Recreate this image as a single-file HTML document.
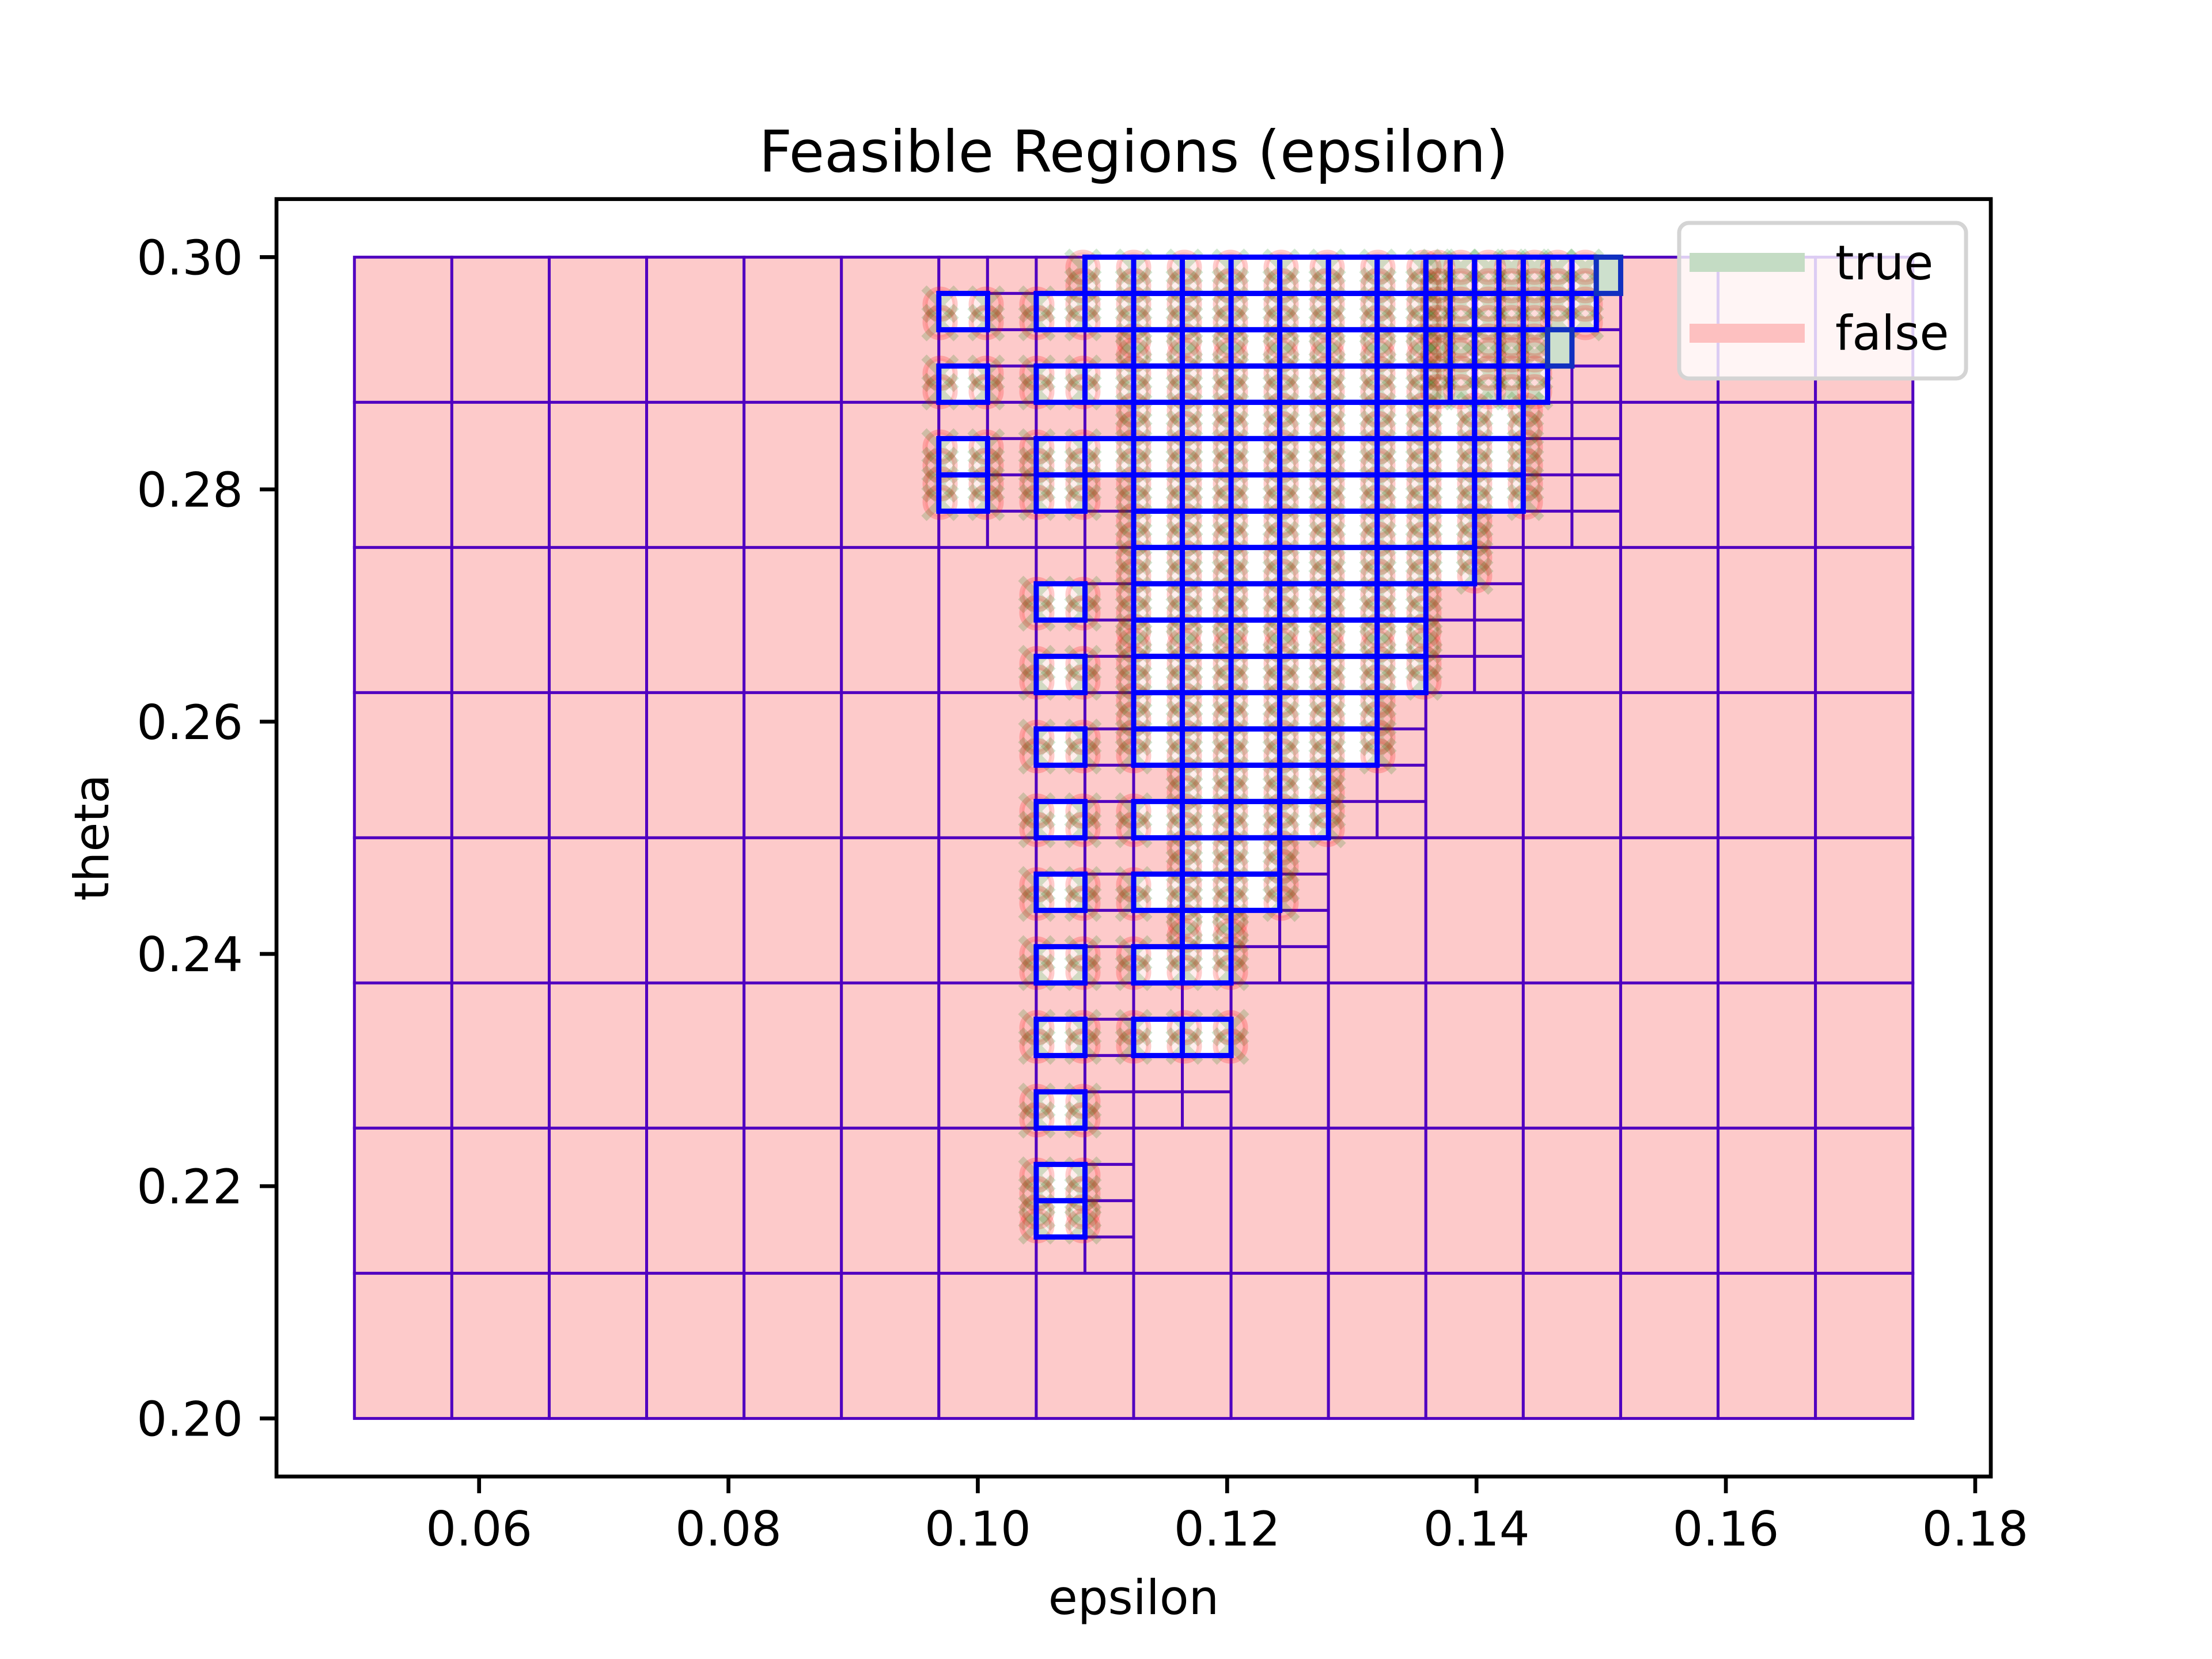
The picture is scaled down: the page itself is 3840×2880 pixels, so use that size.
<!DOCTYPE html>
<html><head><meta charset="utf-8"><style>
html,body{margin:0;padding:0;background:#fff;}
svg{display:block;}
text{font-family:"DejaVu Sans","Liberation Sans",sans-serif;fill:#000;}
</style></head><body>
<svg id="chart" width="3840" height="2880" viewBox="0 0 3840 2880" xmlns="http://www.w3.org/2000/svg">
<rect x="0" y="0" width="3840" height="2880" fill="#fff"/>
<g id="cells"></g>
<g id="bluefill"></g>
<g id="marks"></g>
<g id="blues"></g>
<g id="axes"></g>
</svg>
<script>
// ---- data ----
const baseEpsEdges = [0.05,0.0578125,0.065625,0.0734375,0.08125,0.0890625,0.096875,0.1046875,0.1125,0.1203125,0.128125,0.1359375,0.14375,0.1515625,0.159375,0.1671875,0.175];
const baseThetaEdges = [0.3,0.2875,0.275,0.2625,0.25,0.2375,0.225,0.2125,0.2];
// refined (split) base cells: [colIndex,rowIndex]
const refinedCols = [6,6,7,7,7,7,7,7,7,8,8,8,8,8,8,9,9,9,9,9,10,10,10,10,11,11,11,12,12];
const refinedRows = [0,1,0,1,2,3,4,5,6,0,1,2,3,4,5,0,1,2,3,4,0,1,2,3,0,1,2,0,1];
// undecided (blue) cells: quarter-row index, eps start, eps end, cell width
const blueRow   = [0,0,1,1,1,1,2,2,3,3,3,3,3,4,5,5,5,5,6,6,6,7,8,9,9,10,11,11,12,13,13,14,15,15,16,17,17,18,19,19,21,21,23,25,26];
const blueStart = [0.1085938,0.1359375,0.096875,0.1046875,0.1085938,0.1359375,0.1125,0.1359375,0.096875,0.1046875,0.1085938,0.1125,0.1359375,0.1125,0.096875,0.1046875,0.1085938,0.1125,0.096875,0.1046875,0.1125,0.1125,0.1125,0.1046875,0.1125,0.1125,0.1046875,0.1125,0.1125,0.1046875,0.1125,0.1164063,0.1046875,0.1125,0.1164063,0.1046875,0.1125,0.1164063,0.1046875,0.1125,0.1046875,0.1125,0.1046875,0.1046875,0.1046875];
const blueEnd   = [0.1359375,0.1496094,0.1007813,0.1085938,0.1359375,0.1496094,0.1359375,0.1457031,0.1007813,0.1085938,0.1125,0.1359375,0.1457031,0.14375,0.1007813,0.1085938,0.1125,0.14375,0.1007813,0.1085938,0.14375,0.1398438,0.1398438,0.1085938,0.1359375,0.1359375,0.1085938,0.1359375,0.1320313,0.1085938,0.1320313,0.128125,0.1085938,0.128125,0.1242188,0.1085938,0.1242188,0.1203125,0.1085938,0.1203125,0.1085938,0.1203125,0.1085938,0.1085938,0.1085938];
const blueStep  = [0.00390625,0.001953125,0.00390625,0.00390625,0.00390625,0.001953125,0.00390625,0.001953125,0.00390625,0.00390625,0.00390625,0.00390625,0.001953125,0.00390625,0.00390625,0.00390625,0.00390625,0.00390625,0.00390625,0.00390625,0.00390625,0.00390625,0.00390625,0.00390625,0.00390625,0.00390625,0.00390625,0.00390625,0.00390625,0.00390625,0.00390625,0.00390625,0.00390625,0.00390625,0.00390625,0.00390625,0.00390625,0.00390625,0.00390625,0.00390625,0.00390625,0.00390625,0.00390625,0.00390625,0.00390625];
// feasible (green) cells
const greenRow = [0,2];
const greenStart = [0.1496094,0.1457031];
const greenEnd = [0.1515625,0.1476563];
const xTicks = [0.06,0.08,0.10,0.12,0.14,0.16,0.18];
const xTickLabels = ["0.06","0.08","0.10","0.12","0.14","0.16","0.18"];
const yTicks = [0.20,0.22,0.24,0.26,0.28,0.30];
const yTickLabels = ["0.20","0.22","0.24","0.26","0.28","0.30"];

// ---- axes ----
const AX={l:480,r:3456,t:345.6,b:2563.2};
const xMin=0.04375,xMax=0.18125,yMin=0.195,yMax=0.305;
const X=e=>AX.l+(e-xMin)/(xMax-xMin)*(AX.r-AX.l);
const Y=t=>AX.t+(yMax-t)/(yMax-yMin)*(AX.b-AX.t);
const qH=0.003125, NS='http://www.w3.org/2000/svg';
const cells=document.getElementById('cells'), bluefill=document.getElementById('bluefill'), blues=document.getElementById('blues'), axes=document.getElementById('axes'), marks=document.getElementById('marks');
function mk(tag,attrs,parent){const el=document.createElementNS(NS,tag);for(const k in attrs)el.setAttribute(k,attrs[k]);parent.appendChild(el);return el;}
function box(e0,e1,t0,t1,fill,stroke,sw,name,parent){
  const el=mk('rect',{x:X(e0),y:Y(t0),width:X(e1)-X(e0),height:Y(t1)-Y(t0),fill:fill,stroke:stroke,'stroke-width':sw},parent||cells);
  
  
  return el;
}
const PINK='#fdcaca', PURP='#5000c0';
const isRef=(c,r)=>refinedCols.some((v,i)=>v===c&&refinedRows[i]===r);
for(let c=0;c<16;c++)for(let r=0;r<8;r++){
  const e0=baseEpsEdges[c],e1=baseEpsEdges[c+1],t0=baseThetaEdges[r],t1=baseThetaEdges[r+1];
  if(!isRef(c,r)){box(e0,e1,t0,t1,PINK,PURP,5,'false-region');}
  else{
    const hw=(e1-e0)/2, hh=(t0-t1)/4;
    for(let a=0;a<2;a++)for(let b=0;b<4;b++)box(e0+a*hw,e0+(a+1)*hw,t0-b*hh,t0-(b+1)*hh,PINK,PURP,5,'false-subregion');
  }
}
const markerSet=new Set();
const key=(x,y)=>Math.round(x/8)*8+','+Math.round(y/8)*8;
for(let i=0;i<blueRow.length;i++){
  const t0=0.3-blueRow[i]*qH,t1=t0-qH;
  for(let e=blueStart[i];e<blueEnd[i]-1e-6;e+=blueStep[i]){
    const e1=Math.min(e+blueStep[i],blueEnd[i]);
    box(e,e1,t0,t1,'#fff','none',0,'undecided-region-fill',bluefill);
    box(e,e1,t0,t1,'none','#0000ff',9,'undecided-region',blues);
    if(blueStep[i]>0.003){
      [e,e1].forEach(ex=>{[t0-qH/4,t1+qH/4].forEach(ty=>{markerSet.add(key(X(ex),Y(ty)));});});
    } else {
      [t0-qH/4,t1+qH/4].forEach(ty=>markerSet.add(key(X(e+blueStep[i]/2),Y(ty))));
    }
  }
}
for(let i=0;i<greenRow.length;i++){
  const t0=0.3-greenRow[i]*qH;
  box(greenStart[i],greenEnd[i],t0,t0-qH,'#cde0cd','#1030c0',9,'true-region',blues);
}
markerSet.forEach(k=>{
  const [mx,my]=k.split(',').map(Number);
  const c=mk('circle',{cx:mx,cy:my,r:26,fill:'rgba(255,0,0,0.07)',stroke:'rgba(255,0,0,0.2)','stroke-width':9},marks);
  
  
  const p=mk('path',{d:`M${mx-28},${my-28}L${mx+28},${my+28}M${mx-28},${my+28}L${mx+28},${my-28}`,stroke:'rgba(0,128,0,0.18)','stroke-width':13,fill:'none'},marks);
  
  
});
// frame
let el=mk('rect',{x:AX.l,y:AX.t,width:AX.r-AX.l,height:AX.b-AX.t,fill:'none',stroke:'#000','stroke-width':6.7},axes);


xTicks.forEach((v,i)=>{
  const t=mk('line',{x1:X(v),x2:X(v),y1:AX.b,y2:AX.b+29,stroke:'#000','stroke-width':6.7},axes);
  
  
  const l=mk('text',{x:X(v),y:AX.b+58+62,'font-size':83,'text-anchor':'middle'},axes);l.textContent=xTickLabels[i];
  
  
});
yTicks.forEach((v,i)=>{
  const t=mk('line',{x1:AX.l-29,x2:AX.l,y1:Y(v),y2:Y(v),stroke:'#000','stroke-width':6.7},axes);
  
  
  const l=mk('text',{x:AX.l-58,y:Y(v)+30,'font-size':83,'text-anchor':'end'},axes);l.textContent=yTickLabels[i];
  
  
});
</script>
<svg style="position:absolute;left:0;top:0" width="3840" height="2880" viewBox="0 0 3840 2880" xmlns="http://www.w3.org/2000/svg">
<text x="1968" y="298" font-size="100" text-anchor="middle">Feasible Regions (epsilon)</text>
<text x="1968" y="2802" font-size="83" text-anchor="middle">epsilon</text>
<text x="0" y="0" font-size="83" text-anchor="middle" transform="translate(188,1454) rotate(-90)">theta</text>
<g>
<rect x="2915" y="387" width="498" height="270" rx="17" fill="#fff" fill-opacity="0.8" stroke="#d4d4d4" stroke-width="7"/>
<rect x="2933" y="439" width="200" height="33" fill="#c4dcc4"/>
<text x="3186" y="485" font-size="83">true</text>
<rect x="2933" y="562" width="200" height="33" fill="#fdc0c0"/>
<text x="3186" y="607" font-size="83">false</text>
</g>
</svg>
</body></html>
